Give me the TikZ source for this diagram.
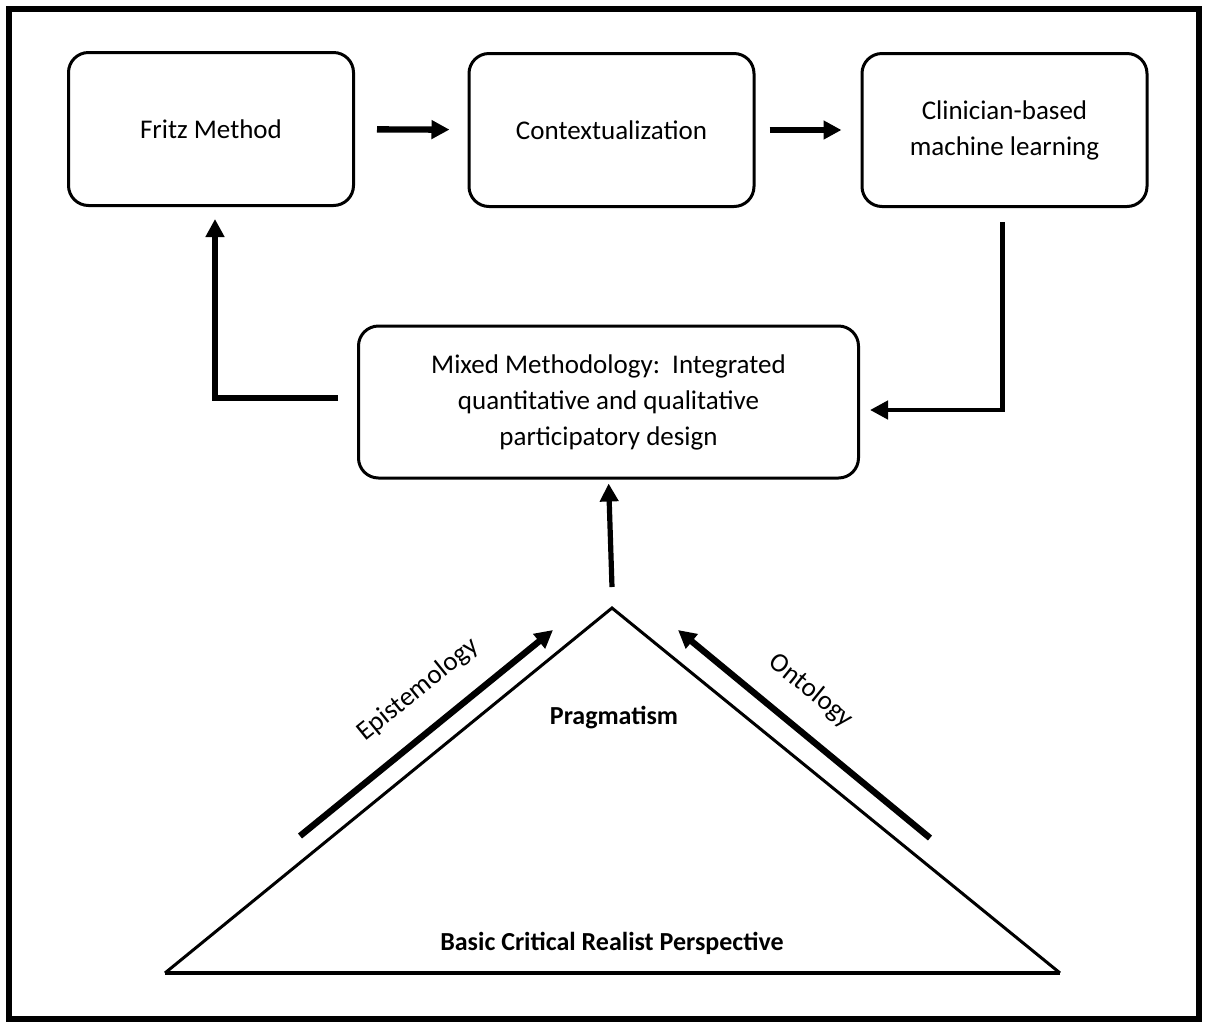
\documentclass[tikz,border=0pt]{standalone}
\usepackage{fontspec}
\setmainfont{Carlito}
\usetikzlibrary{arrows.meta}
\pgfdeclarelayer{bg}
\pgfsetlayers{bg,main}
\tikzset{
    box/.style={draw, rounded corners=10pt, line width=1.5pt, minimum width=142.5pt, minimum height=76.5pt, align=center, font=\fontsize{13.5}{18}\selectfont},
    flow/.style={line width=3.2pt, -{Triangle[length=9pt,width=9pt]}},
    side/.style={line width=1.5pt},
    word/.style={font=\fontsize{13.5}{18}\selectfont}
}

\begin{document}
\begin{tikzpicture}[x=0.5pt,y=-0.5pt]
  \useasboundingbox (0,0) rectangle (1207,1024);
  \draw[line width=3pt] (9,9) rectangle (1199,1019);

  \node[box] (fritz) at (211,129) {Fritz Method};
  \node[box] (ctx) at (611.5,130) {Contextualization};
  \node[box] (clin) at (1004.5,130) {Clinician-based\\machine learning};
  \node[box, minimum width=250pt, minimum height=76pt] (mixed) at (608.5,402) {Mixed Methodology:\ \ Integrated\\quantitative and qualitative\\participatory design};

  \coordinate (apex) at (612,608);
  \coordinate (bl) at (165,973);
  \coordinate (br) at (1060,973);

  \node[word, font=\fontsize{13}{18}\selectfont\bfseries] (prag) at (614,718) {Pragmatism};
  \node[word, font=\fontsize{13}{18}\selectfont\bfseries] (crit) at (612,943) {Basic Critical Realist Perspective};
  \node[word, rotate=39] (epi) at (418,690) {Epistemology};
  \node[word, rotate=-39] (onto) at (811,691) {Ontology};

  \coordinate (e1) at (300,836);
  \coordinate (e2) at (553,630);
  \coordinate (o1) at (930,838);
  \coordinate (o2) at (678,630);
  \coordinate (up) at (612,587);
  \coordinate (fbl) at (338,398);
  \coordinate (fbr) at (870,410);

  \begin{pgfonlayer}{bg}
    \draw[side] (bl) -- (apex) -- (br);
    \draw[line width=2.4pt] (bl) -- (br);

    \draw[flow, shorten <=11pt, shorten >=9pt] (fritz) -- (ctx);
    \draw[flow, shorten <=7pt, shorten >=9.5pt] (ctx) -- (clin);

    \draw[flow, shorten >=6pt] (fbl) -| ([xshift=2pt]fritz.south);
    \draw[flow, line width=2.2pt, shorten <=7pt] ([xshift=-1pt]clin.south) |- (fbr);

    \draw[flow, line width=2.6pt, shorten >=2pt] (up) -- (mixed.south);

    \draw[flow] (e1) -- (e2);
    \draw[flow] (o1) -- (o2);
  \end{pgfonlayer}
\end{tikzpicture}
\end{document}
